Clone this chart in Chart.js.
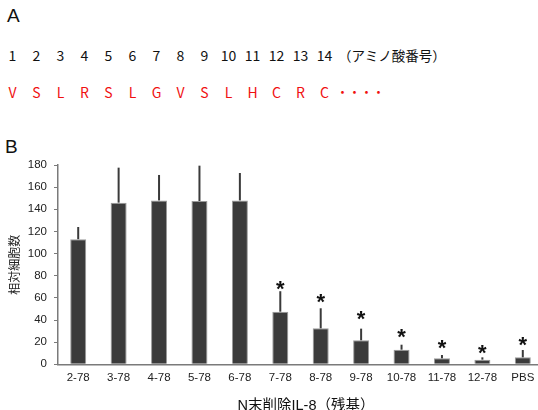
<!DOCTYPE html>
<html>
<head>
<meta charset="utf-8">
<script src="https://cdn.jsdelivr.net/npm/chart.js@4.4.1/dist/chart.umd.min.js"></script>
<style>
  html, body { margin: 0; padding: 0; background: #fff; overflow: hidden; }
  body { width: 538px; height: 410px; position: relative; }
  .t { position: absolute; white-space: nowrap; font-family: "Noto Sans CJK JP", "Noto Sans", sans-serif; }
  .panel { font-family: "Liberation Sans", Arial, sans-serif; font-size: 19px; color: #111; }
  .num { font-size: 14px; color: #111; transform: translate(-50%, -50%); }
  .res { font-size: 14px; color: #f01010; transform: translate(-50%, -50%); }
  #wrap { position: absolute; left: 0; top: 140px; width: 545px; height: 270px; }
  #xtitle { position: absolute; top: 403px; left: 306px; transform: translate(-50%, -50%);
            font-family: "Liberation Sans", "Noto Sans CJK JP", sans-serif; font-size: 14.5px; color: #111; white-space: nowrap; }
</style>
</head>
<body>
<div class="t panel" style="left:7px; top:5px;">A</div>
<div class="t panel" style="left:5px; top:136px;">B</div>
<div id="seq"></div>
<div id="wrap"><canvas id="c" width="545" height="270"></canvas></div>
<div id="xtitle"></div>
<script>
// ---- Panel A data ----
const aminoNumbers = [1, 2, 3, 4, 5, 6, 7, 8, 9, 10, 11, 12, 13, 14];
const residues = ['V', 'S', 'L', 'R', 'S', 'L', 'G', 'V', 'S', 'L', 'H', 'C', 'R', 'C'];
const numberNote = '（アミノ酸番号）';
const continuation = '・・・・';

// ---- Panel B data ----
const categories = ['2-78', '3-78', '4-78', '5-78', '6-78', '7-78', '8-78', '9-78', '10-78', '11-78', '12-78', 'PBS'];
const means = [113, 146, 148, 147.5, 148, 47.5, 32.5, 21.7, 13.2, 5.4, 4.2, 6.3];
const errorTops = [124, 177.6, 171, 179.4, 172.8, 66, 50.6, 32.2, 17.7, 8.4, 6.3, 12.9];
const significant = [false, false, false, false, false, true, true, true, true, true, true, true];
const starLevels = [null, null, null, null, null, 73.7, 61.5, 46.3, 29.7, 20.1, 15.6, 22.8];
const yTicks = [0, 20, 40, 60, 80, 100, 120, 140, 160, 180];
const yTitle = '相対細胞数';
const xTitle = 'N末削除IL-8（残基）';

document.getElementById('xtitle').textContent = xTitle;

// build panel A text
const seq = document.getElementById('seq');
const x0 = 12.5, dx = 24.0;
aminoNumbers.forEach((n, i) => {
  const d = document.createElement('div');
  d.className = 't num'; d.textContent = String(n);
  d.style.left = (x0 + i * dx) + 'px'; d.style.top = '55px';
  seq.appendChild(d);
});
residues.forEach((r, i) => {
  const d = document.createElement('div');
  d.className = 't res'; d.textContent = r;
  d.style.left = (x0 + i * dx) + 'px'; d.style.top = '92px';
  seq.appendChild(d);
});
{
  const d = document.createElement('div');
  d.className = 't'; d.textContent = numberNote;
  d.style.cssText = 'left:338px; top:45px; font-size:13.5px; color:#111;';
  seq.appendChild(d);
  const e = document.createElement('div');
  e.className = 't'; e.textContent = continuation;
  e.style.cssText = 'left:336px; top:82px; font-size:13px; color:#f01010; letter-spacing:-1px;';
  seq.appendChild(e);
}

const barExtras = {
  id: 'barExtras',
  afterDatasetsDraw(chart) {
    const ctx = chart.ctx;
    const meta = chart.getDatasetMeta(0);
    const y = chart.scales.y;
    ctx.save();
    ctx.strokeStyle = '#3a3a3a';
    ctx.lineWidth = 2;
    meta.data.forEach((bar, i) => {
      const top = y.getPixelForValue(means[i]);
      const et = y.getPixelForValue(errorTops[i]);
      ctx.beginPath();
      ctx.moveTo(bar.x, top);
      ctx.lineTo(bar.x, et);
      ctx.stroke();
    });
    ctx.fillStyle = '#111';
    ctx.font = 'bold 22px "Liberation Sans", Arial, sans-serif';
    ctx.textAlign = 'center';
    ctx.textBaseline = 'alphabetic';
    meta.data.forEach((bar, i) => {
      if (!significant[i]) return;
      const sy = y.getPixelForValue(starLevels[i]);
      ctx.fillText('*', bar.x, sy + 13);
    });
    ctx.restore();
  }
};

new Chart(document.getElementById('c'), {
  type: 'bar',
  data: {
    labels: categories,
    datasets: [{
      data: means,
      backgroundColor: '#3b3b3b',
      borderColor: '#9a9a9a',
      borderWidth: 1,
      barPercentage: 0.396,
      categoryPercentage: 1.0
    }]
  },
  options: {
    responsive: false,
    animation: false,
    devicePixelRatio: 1,
    layout: { padding: { top: 25, left: 0, right: 2, bottom: 0 } },
    plugins: { legend: { display: false }, tooltip: { enabled: false } },
    scales: {
      x: {
        grid: { display: false, drawTicks: false },
        border: { display: true, color: '#7a7a7a', width: 1.5 },
        ticks: { color: '#222', font: { family: '"Liberation Sans", Arial, sans-serif', size: 11.5 }, padding: 7, maxRotation: 0, autoSkip: false },
        title: { display: false },
        afterFit(scale) { scale.height = 45.7; }
      },
      y: {
        min: 0, max: 180,
        afterBuildTicks(scale) { scale.ticks = yTicks.map(v => ({ value: v })); },
        grid: { drawOnChartArea: false, drawTicks: true, tickLength: 4, color: '#7a7a7a', lineWidth: 1 },
        border: { display: true, color: '#7a7a7a', width: 1.5 },
        ticks: { color: '#222', font: { family: '"Liberation Sans", Arial, sans-serif', size: 11.5 }, padding: 7 },
        title: { display: true, text: yTitle, color: '#222', padding: { top: 7 }, font: { family: '"Noto Sans CJK JP", sans-serif', size: 12 } },
        afterFit(scale) { scale.width = 58; }
      }
    }
  },
  plugins: [barExtras]
});
</script>
</body>
</html>
